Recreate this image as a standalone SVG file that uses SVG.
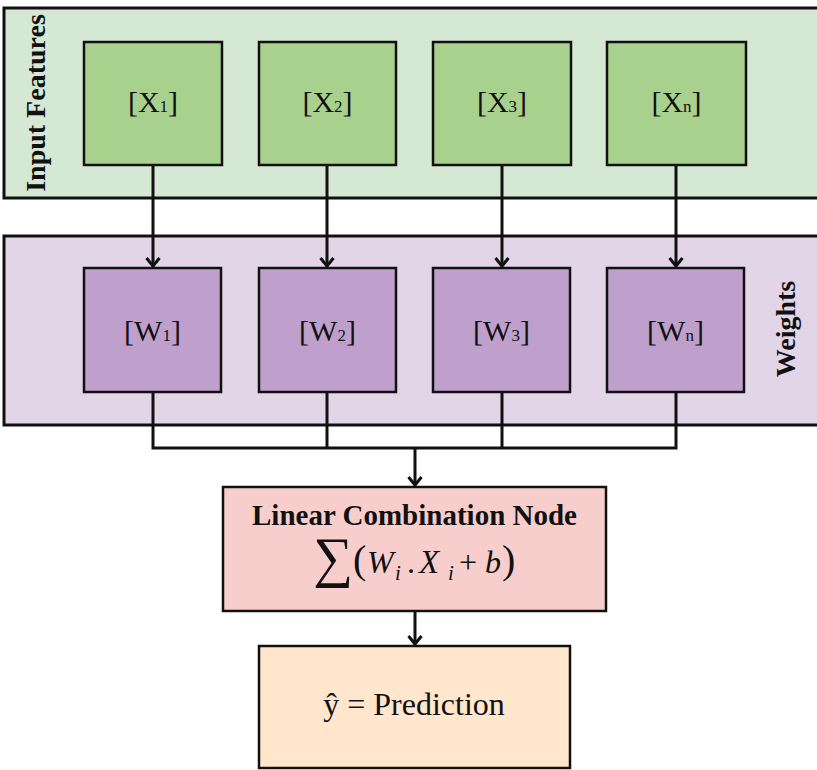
<svg xmlns="http://www.w3.org/2000/svg" width="817" height="770" viewBox="0 0 817 770">
  <defs>
    <style>
      .panel { stroke: #111; stroke-width: 3; }
      .box { stroke: #111; stroke-width: 2.5; }
      .lbl { font-family: "Liberation Serif", "Times New Roman", serif; fill: #111; }
      .wire { fill: none; stroke: #111; stroke-width: 3; }
    </style>
    <marker id="chev" markerUnits="userSpaceOnUse" markerWidth="20" markerHeight="20" viewBox="-12 -10 16 20" refX="0" refY="0" orient="auto">
      <path d="M-8,-6.5 L0,0 L-8,6.5" fill="none" stroke="#111" stroke-width="3"/>
    </marker>
  </defs>
  <rect width="817" height="770" fill="#ffffff"/>

  <!-- input features band -->
  <g id="input-features">
    <rect class="panel" x="4" y="8" width="840" height="190" fill="#d5e8d4"/>
    <text class="lbl" transform="translate(45,103) rotate(-90)" text-anchor="middle" font-size="28" font-weight="bold">Input Features</text>
  </g>

  <!-- weights band -->
  <g id="weights">
    <rect class="panel" x="4" y="236" width="840" height="189" fill="#e1d5e7"/>
    <text class="lbl" transform="translate(795,329) rotate(-90)" text-anchor="middle" font-size="28" font-weight="bold">Weights</text>
  </g>

  <g id="x1">
    <rect class="box" x="84" y="42" width="138" height="123" fill="#a9d18e"/>
    <text class="lbl" x="153" y="112" text-anchor="middle" font-size="30">[X<tspan font-size="17">1</tspan>]</text>
  </g>
  <g id="x2">
    <rect class="box" x="259" y="42" width="137" height="123" fill="#a9d18e"/>
    <text class="lbl" x="327.5" y="112" text-anchor="middle" font-size="30">[X<tspan font-size="17">2</tspan>]</text>
  </g>
  <g id="x3">
    <rect class="box" x="433" y="42" width="138" height="123" fill="#a9d18e"/>
    <text class="lbl" x="502" y="112" text-anchor="middle" font-size="30">[X<tspan font-size="17">3</tspan>]</text>
  </g>
  <g id="xn">
    <rect class="box" x="607" y="42" width="139" height="123" fill="#a9d18e"/>
    <text class="lbl" x="676.5" y="112" text-anchor="middle" font-size="30">[X<tspan font-size="17">n</tspan>]</text>
  </g>

  <g id="w1">
    <rect class="box" x="84" y="268" width="137" height="124" fill="#bfa0cc"/>
    <text class="lbl" x="152.5" y="341" text-anchor="middle" font-size="30">[W<tspan font-size="17">1</tspan>]</text>
  </g>
  <g id="w2">
    <rect class="box" x="259" y="268" width="137" height="124" fill="#bfa0cc"/>
    <text class="lbl" x="327.5" y="341" text-anchor="middle" font-size="30">[W<tspan font-size="17">2</tspan>]</text>
  </g>
  <g id="w3">
    <rect class="box" x="433" y="268" width="137" height="124" fill="#bfa0cc"/>
    <text class="lbl" x="501.5" y="341" text-anchor="middle" font-size="30">[W<tspan font-size="17">3</tspan>]</text>
  </g>
  <g id="wn">
    <rect class="box" x="607" y="268" width="137" height="124" fill="#bfa0cc"/>
    <text class="lbl" x="675.5" y="341" text-anchor="middle" font-size="30">[W<tspan font-size="17">n</tspan>]</text>
  </g>

  <g id="linear-combination">
    <rect class="box" x="223" y="487" width="383" height="124" fill="#f8cecc"/>
    <text class="lbl" x="414.5" y="525" text-anchor="middle" font-size="29" font-weight="bold">Linear Combination Node</text>
    <!-- weighted sum formula: large summation sign, italic symbols, lowered subscripts -->
    <text class="lbl" y="573" font-size="32"><tspan x="313" dy="3" font-size="56">∑</tspan><tspan x="353" dy="-3" font-size="40">(</tspan><tspan x="367" font-style="italic">W</tspan><tspan x="395" dy="7" font-size="21" font-style="italic">i</tspan><tspan x="407" dy="-7">.</tspan><tspan x="419" font-style="italic" font-size="33">X</tspan><tspan x="448" dy="7" font-size="21" font-style="italic">i</tspan><tspan x="459" dy="-7">+</tspan><tspan x="485" font-style="italic">b</tspan><tspan x="502" font-size="40">)</tspan></text>
  </g>

  <g id="prediction">
    <rect class="box" x="259" y="646" width="311" height="122" fill="#ffe6cc"/>
    <text class="lbl" x="414" y="715" text-anchor="middle" font-size="32">ŷ = Prediction</text>
  </g>

  <!-- connectors -->
  <g id="connectors">
    <path class="wire" d="M153,165 V266" marker-end="url(#chev)"/>
    <path class="wire" d="M327,165 V266" marker-end="url(#chev)"/>
    <path class="wire" d="M502,165 V266" marker-end="url(#chev)"/>
    <path class="wire" d="M676,165 V266" marker-end="url(#chev)"/>
    <path class="wire" d="M153,392 V448 H676 V392"/>
    <path class="wire" d="M327,392 V448"/>
    <path class="wire" d="M502,392 V448"/>
    <path class="wire" d="M415,448 V485" marker-end="url(#chev)"/>
    <path class="wire" d="M415,611 V644" marker-end="url(#chev)"/>
  </g>
</svg>
